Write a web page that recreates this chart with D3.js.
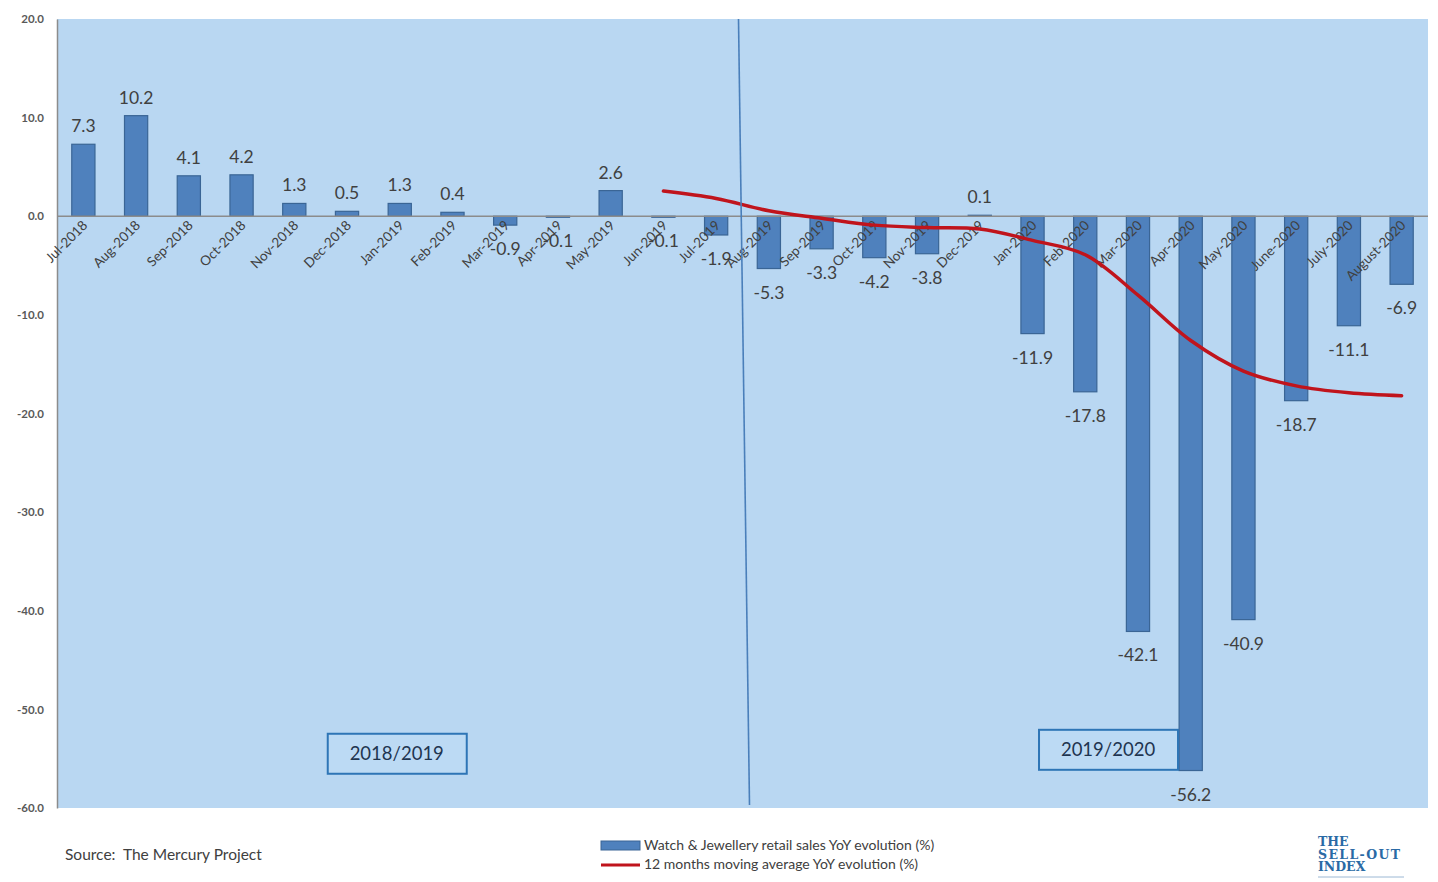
<!DOCTYPE html>
<html><head><meta charset="utf-8">
<script src="https://cdn.jsdelivr.net/npm/d3@7"></script>
<style>body{margin:0;background:#fff;}svg{display:block;}</style>
</head><body>
<svg id="c" width="1438" height="882"></svg>
<script>
const categories = ["Jul-2018","Aug-2018","Sep-2018","Oct-2018","Nov-2018","Dec-2018","Jan-2019","Feb-2019","Mar-2019","Apr-2019","May-2019","Jun-2019","Jul-2019","Aug-2019","Sep-2019","Oct-2019","Nov-2019","Dec-2019","Jan-2020","Feb-2020","Mar-2020","Apr-2020","May-2020","June-2020","July-2020","August-2020"];
const salesYoY = [7.3,10.2,4.1,4.2,1.3,0.5,1.3,0.4,-0.9,-0.1,2.6,-0.1,-1.9,-5.3,-3.3,-4.2,-3.8,0.1,-11.9,-17.8,-42.1,-56.2,-40.9,-18.7,-11.1,-6.9];
const movingAvg = [null,null,null,null,null,null,null,null,null,null,null,2.55,1.8,0.55,-0.2,-0.9,-1.15,-1.3,-2.45,-3.9,-8.0,-12.6,-15.7,-17.2,-17.9,-18.2];
const yTicks = [20,10,0,-10,-20,-30,-40,-50,-60];
const periodLabels = ["2018/2019","2019/2020"];
const legendLabels = ["Watch & Jewellery retail sales YoY evolution (%)","12 months moving average YoY evolution (%)"];
const sourceText = "Source:  The Mercury Project";
const logoLines = ["THE","SELL-OUT","INDEX"];

const svg = d3.select("#c");
const L = 57, R = 1428, T = 19, B = 808;
const font = "Lato, 'Open Sans', sans-serif";
const fmt = d => d3.format(".1f")(d).replace("\u2212", "-");

svg.append("rect").attr("x", L).attr("y", T).attr("width", R - L).attr("height", B - T).attr("fill", "#b9d7f2");

const x = d3.scaleBand().domain(categories).range([L, R]).paddingInner(0.56).paddingOuter(0.28);
const y = d3.scaleLinear().domain([-60, 20]).range([B, T]);

// y axis labels
const yAxis = d3.axisLeft(y).tickValues(yTicks).tickFormat(fmt).tickSize(0).tickPadding(13);
const ya = svg.append("g").attr("transform", `translate(${L},0)`).call(yAxis);
ya.select(".domain").attr("stroke", "#8c8c8c").attr("stroke-width", 1.5);
ya.selectAll("text").attr("font-family", font).attr("font-weight", "bold").attr("font-size", 11.5).attr("fill", "#595959");

// bars
svg.append("g").selectAll("rect").data(salesYoY).join("rect")
  .attr("x", (d, i) => x(categories[i]))
  .attr("width", x.bandwidth())
  .attr("y", d => y(Math.max(0, d)))
  .attr("height", d => Math.abs(y(d) - y(0)))
  .attr("fill", "#4f81bd").attr("stroke", "#3a6595").attr("stroke-width", 1.2);

// zero line
svg.append("line").attr("x1", L).attr("x2", R).attr("y1", y(0)).attr("y2", y(0)).attr("stroke", "#8c8c8c").attr("stroke-width", 1.5);

// category labels
svg.append("g").selectAll("text").data(categories).join("text")
  .attr("transform", d => `translate(${x(d) + x.bandwidth() / 2 + 5},${y(0) + 10}) rotate(-45)`)
  .attr("text-anchor", "end").attr("font-family", font).attr("font-size", 13.5).attr("fill", "#404040")
  .text(d => d);

// value labels
svg.append("g").selectAll("text").data(salesYoY).join("text")
  .attr("x", (d, i) => x(categories[i]) + x.bandwidth() / 2)
  .attr("y", d => d >= 0 ? y(d) - 12 : y(d) + 30)
  .attr("text-anchor", "middle").attr("font-family", font).attr("font-size", 17.5).attr("fill", "#404040")
  .text(fmt);

// moving average line
const lineGen = d3.line().defined(d => d != null)
  .x((d, i) => x(categories[i]) + x.bandwidth() / 2)
  .y(d => y(d)).curve(d3.curveCatmullRom.alpha(0.5));
svg.append("path").datum(movingAvg).attr("d", lineGen)
  .attr("fill", "none").attr("stroke", "#c0141c").attr("stroke-width", 3.5).attr("stroke-linecap", "round");

// period separator (between Jul-2019 and Aug-2019)
const sepX = x(categories[13]) - x.step() * x.paddingInner() / 2;
svg.append("line").attr("x1", sepX - 4).attr("y1", T).attr("x2", sepX + 7).attr("y2", B - 3)
  .attr("stroke", "#4a7fba").attr("stroke-width", 1.6);

// period boxes
const boxes = [
  {label: periodLabels[0], cx: x(categories[6]) + x.bandwidth() / 2 - 3, cy: y(-54.5)},
  {label: periodLabels[1], cx: x(categories[20]) - x.step() * 0.5 + 8, cy: y(-54.1)}
];
boxes.forEach(b => {
  svg.append("rect").attr("x", b.cx - 69).attr("y", b.cy - 20).attr("width", 139).attr("height", 40)
    .attr("fill", "#bcdaf4").attr("stroke", "#2e75b6").attr("stroke-width", 2);
  svg.append("text").attr("x", b.cx).attr("y", b.cy + 6).attr("text-anchor", "middle")
    .attr("font-family", font).attr("font-size", 18.5).attr("fill", "#1f3550").text(b.label);
});

// legend
const lg = svg.append("g");
lg.append("rect").attr("x", 601).attr("y", 841).attr("width", 39).attr("height", 9).attr("fill", "#4f81bd").attr("stroke", "#3a6595");
lg.append("text").attr("x", 644).attr("y", 850).attr("font-family", font).attr("font-size", 14).attr("fill", "#404040").text(legendLabels[0]);
lg.append("line").attr("x1", 601).attr("x2", 640).attr("y1", 865).attr("y2", 865).attr("stroke", "#c0141c").attr("stroke-width", 3);
lg.append("text").attr("x", 644).attr("y", 869).attr("font-family", font).attr("font-size", 14).attr("fill", "#404040").text(legendLabels[1]);

// source
svg.append("text").attr("x", 65).attr("y", 860).attr("font-family", font).attr("font-size", 15.5)
  .attr("fill", "#404040").style("white-space", "pre").text(sourceText);

// logo
const logo = svg.append("g");
logoLines.forEach((t, i) => {
  logo.append("text").attr("x", 1318).attr("y", 846 + i * 12.5).attr("font-family", "'DejaVu Serif', serif")
    .attr("font-weight", "bold").attr("font-size", 12.5).attr("fill", "#2a6aa5").attr("textLength", i === 1 ? 82 : null).text(t);
});
logo.append("line").attr("x1", 1318).attr("x2", 1404).attr("y1", 877).attr("y2", 877).attr("stroke", "#9cb8d4").attr("stroke-width", 1);
</script>
</body></html>
